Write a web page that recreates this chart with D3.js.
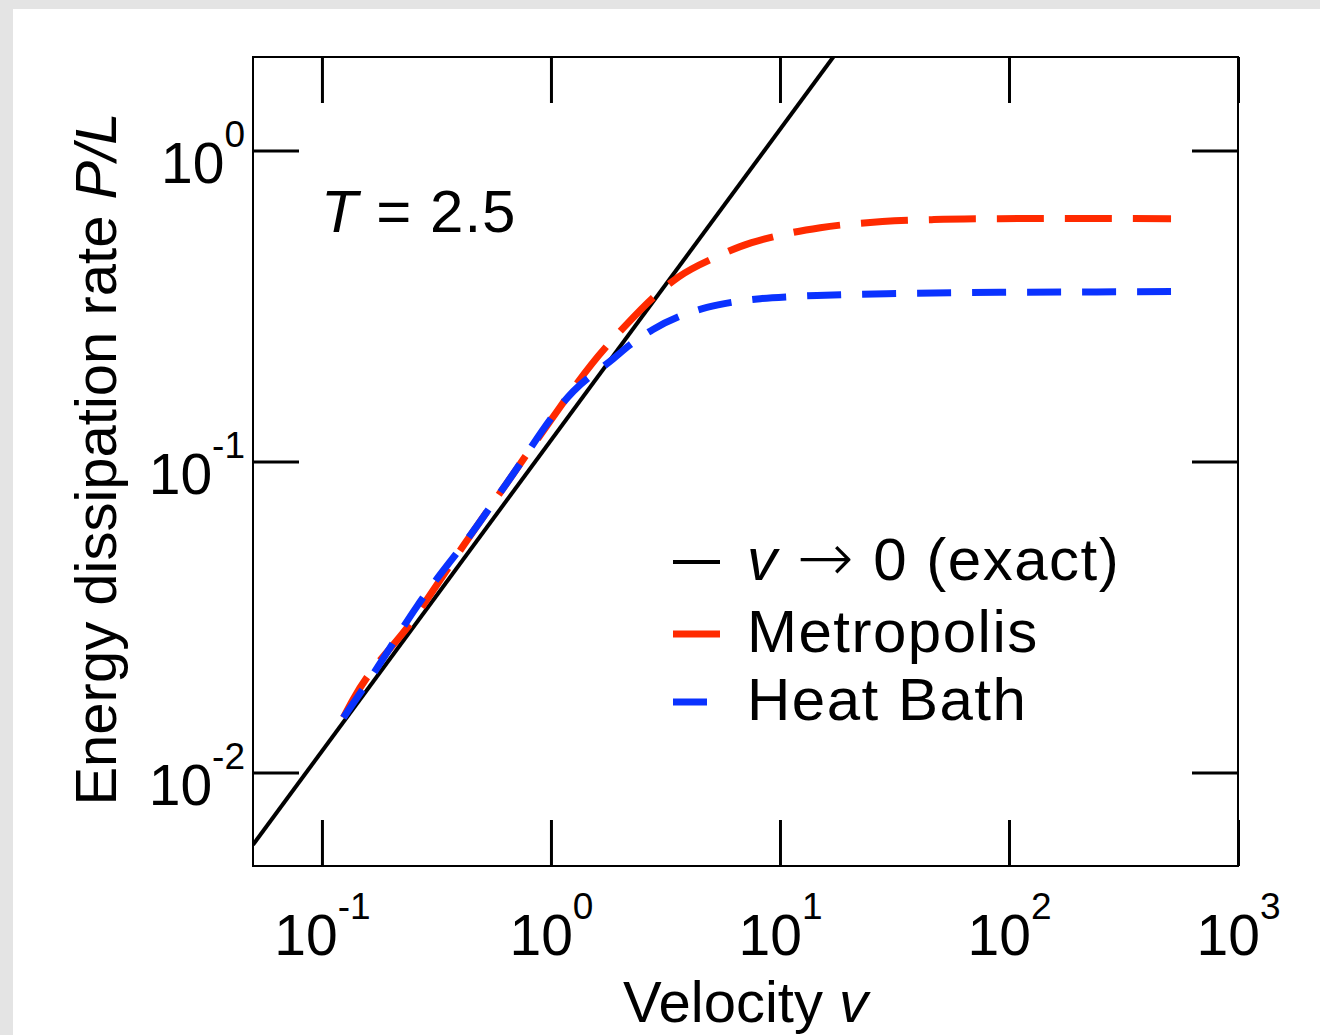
<!DOCTYPE html>
<meta charset="utf-8">
<style>
  body { margin: 0; background: #e6e6e6; }
  text { font-family: "Liberation Sans", Arial, sans-serif; fill: #000; }
</style>
<body>
  <script src="https://d3js.org/d3.v7.min.js"></script>
  <script>

   // values
   const exactV = [0.05, 20];
   const exactP = [0.00585, 2.34];

   const metroV = [0.124, 0.137, 0.25, 0.41, 0.64, 1.0, 1.5, 2.1, 2.9, 3.6, 5.3, 6.7, 10.3, 15, 28, 47, 91, 200, 510];
   const metroP = [0.0150, 0.0172, 0.031, 0.053, 0.085, 0.136, 0.205, 0.272, 0.345, 0.392, 0.456, 0.491, 0.537, 0.565, 0.591, 0.600, 0.604, 0.605, 0.604];

   const heatV = [0.124, 0.17, 0.26, 0.475, 0.64, 1.25, 1.87, 2.21, 2.79, 3.65, 4.8, 6.5, 8.2, 11.1, 14.5, 33, 91, 200, 510];
   const heatP = [0.0150, 0.0211, 0.0342, 0.062, 0.085, 0.168, 0.214, 0.237, 0.266, 0.293, 0.313, 0.327, 0.334, 0.339, 0.342, 0.347, 0.350, 0.351, 0.352];

   const xTicks = [0.1, 1, 10, 100, 1000],
	 xTickExp = ["-1", "0", "1", "2", "3"],
	 yTicks = [1, 0.1, 0.01],
	 yTickExp = ["0", "-1", "-2"];

   const legendLabels = ["exact", "Metropolis", "Heat Bath"],
	 colors = ["#000000", "#ff2a00", "#0a32ff"],
	 dashes = [null, "47,21", "34,21"],
	 widths = [4, 7, 7];

   // dimensions of the plot box
   const margin = {top: 57, right: 82, bottom: 169, left: 253};
   const W = 1320, H = 1035;
   const width = W - margin.left - margin.right;
   const height = H - margin.top - margin.bottom;

   const root = d3.select("body").append("svg")
	       .attr("width", W)
	       .attr("height", H);

   // slide background
   root.append("rect").attr("x", 0).attr("y", 0).attr("width", W).attr("height", H).attr("fill", "#e4e4e4");
   root.append("rect").attr("x", 13).attr("y", 9).attr("width", W - 13).attr("height", H - 9).attr("fill", "#fff");

   const svg = root.append("g")
	       .attr("transform", "translate(" + margin.left + "," + margin.top + ")");

   const x = d3.scaleLog().domain([0.05, 1000]).range([0, width]);
   const y = d3.scaleLog().domain([0.005, 2.0]).range([height, 0]);

   // axes: ticks point inwards, on all four sides
   function styleAxis(g) {
     g.select(".domain").remove();
     g.selectAll(".tick line").attr("stroke", "#000").attr("stroke-width", 3);
     g.selectAll(".tick text").remove();
   }
   const tl = 46;
   const gx = svg.append("g").attr("transform", "translate(0," + height + ")")
      .call(d3.axisBottom(x).tickValues(xTicks).tickSize(-tl).tickFormat(""))
      .call(styleAxis);
   svg.append("g")
      .call(d3.axisTop(x).tickValues(xTicks).tickSize(-tl).tickFormat(""))
      .call(styleAxis);
   const gy = svg.append("g")
      .call(d3.axisLeft(y).tickValues(yTicks).tickSize(-tl).tickFormat(""))
      .call(styleAxis);
   svg.append("g").attr("transform", "translate(" + width + ",0)")
      .call(d3.axisRight(y).tickValues(yTicks).tickSize(-tl).tickFormat(""))
      .call(styleAxis);

   // tick labels like 10^-1
   gx.selectAll(".tick").each(function(d, i) {
     const t = d3.select(this).append("text")
       .attr("y", 89).attr("text-anchor", "middle").style("font-size", "57px");
     t.append("tspan").text("10");
     t.append("tspan").attr("dy", -36).style("font-size", "37px").text(xTickExp[i]);
   });
   gy.selectAll(".tick").each(function(d, i) {
     const t = d3.select(this).append("text")
       .attr("x", -8).attr("y", 32).attr("text-anchor", "end").style("font-size", "57px");
     t.append("tspan").text("10");
     t.append("tspan").attr("dy", -36).style("font-size", "37px").text(yTickExp[i]);
   });

   // frame
   svg.append("rect").attr("width", width).attr("height", height)
      .attr("fill", "none").attr("stroke", "#000").attr("stroke-width", 2);

   svg.append("clipPath").attr("id", "clip")
      .append("rect").attr("width", width).attr("height", height);

   const line = d3.line()
	   .x(d => x(d[0]))
	   .y(d => y(d[1]))
	   .curve(d3.curveMonotoneX);

   const series = [
     d3.zip(exactV, exactP),
     d3.zip(metroV, metroP),
     d3.zip(heatV, heatP)
   ];

   const plot = svg.append("g").attr("clip-path", "url(#clip)");
   // draw black first, then red, then blue on top
   series.forEach((s, i) => {
     plot.append("path")
	 .datum(s)
	 .attr("d", line)
	 .attr("fill", "none")
	 .attr("stroke", colors[i])
	 .attr("stroke-width", widths[i])
	 .attr("stroke-dasharray", dashes[i]);
   });

   // T = 2.5
   const tt = svg.append("text").attr("x", 321 - margin.left).attr("y", 232 - margin.top)
      .style("font-size", "60px").style("letter-spacing", "1px");
   tt.append("tspan").style("font-style", "italic").text("T");
   tt.append("tspan").text(" = 2.5");

   // legend
   const leg = svg.append("g").attr("transform", "translate(" + (673 - margin.left) + "," + (562 - margin.top) + ")");
   legendLabels.forEach((lab, i) => {
     const gy0 = i === 0 ? 0 : (i === 1 ? 72 : 140);
     leg.append("line")
	.attr("x1", 0).attr("x2", 47).attr("y1", gy0).attr("y2", gy0)
	.attr("stroke", colors[i])
	.attr("stroke-width", i === 0 ? 4 : 7)
	.attr("stroke-dasharray", dashes[i]);
     const t = leg.append("text")
	.attr("x", 74).attr("y", gy0 + 18)
	.style("font-size", "60px")
	.style("letter-spacing", "1.5px");
     if (i === 0) {
       t.append("tspan").style("font-style", "italic").text("v ");
       t.append("tspan").style("font-family", "'DejaVu Sans'").style("font-weight", "200")
	.style("font-size", "68px").attr("dy", 1).text("\u2192");
       t.append("tspan").attr("dy", -1).text(" 0 (exact)");
     } else {
       t.text(lab);
     }
   });

   // axis titles
   root.append("text")
       .attr("x", margin.left + width / 2).attr("y", 1022)
       .attr("text-anchor", "middle")
       .style("font-size", "58px")
       .call(t => {
	 t.append("tspan").text("Velocity ");
	 t.append("tspan").style("font-style", "italic").text("v");
       });

   root.append("text")
       .attr("transform", "translate(116,459) rotate(-90)")
       .attr("text-anchor", "middle")
       .style("font-size", "58px")
       .call(t => {
	 t.append("tspan").text("Energy dissipation rate  ");
	 t.append("tspan").style("font-style", "italic").text("P/L");
       });

  </script>
</body>
